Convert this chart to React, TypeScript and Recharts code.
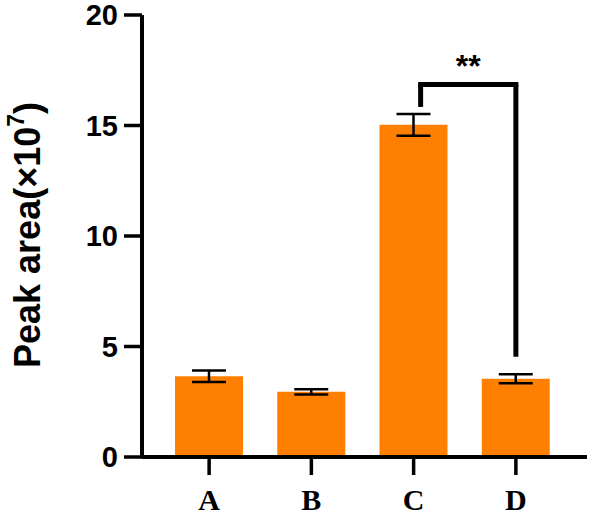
import { BarChart, Bar, XAxis, YAxis, ErrorBar, ReferenceLine } from "recharts";

const groups = ["A", "B", "C", "D"];
const peakArea = [3.65, 2.95, 15.03, 3.54];
const peakErr = [0.26, 0.12, 0.49, 0.2];
const yTicks = [0, 5, 10, 15, 20];

// significance bracket between C and D
const bracketTop = 16.86;
const bracketLeftBottom = 15.84;
const bracketRightBottom = 4.54;
const sigLabel = "**";

const data = groups.map((g, i) => ({ name: g, value: peakArea[i], err: peakErr[i] }));

const SANS = "'Liberation Sans', Arial, Helvetica, sans-serif";
const SERIF = "'Liberation Serif', 'Times New Roman', serif";
const BRACKET_SHIFT = 7;

function YLabel() {
  const x = 40;
  const y = 235;
  return (
    <text
      x={x}
      y={y}
      transform={`rotate(-90, ${x}, ${y})`}
      textAnchor="middle"
      fontFamily={SANS}
      fontWeight="bold"
      fontSize={36}
      fill="#000"
    >
      Peak area(×10
      <tspan fontSize={23} dy={-16}>7</tspan>
      <tspan dy={16}>)</tspan>
    </text>
  );
}

export default function App() {
  return (
    <div style={{ position: "absolute", left: 0, top: 0, background: "#fff" }}>
      <BarChart
        width={590}
        height={516}
        data={data}
        margin={{ top: 15, right: 3, left: 0, bottom: 0 }}
      >
        <XAxis
          dataKey="name"
          height={59}
          padding={{ left: 16, right: 20 }}
          tickSize={18}
          tickMargin={14}
          axisLine={{ stroke: "#000", strokeWidth: 4 }}
          tickLine={{ stroke: "#000", strokeWidth: 3.5 }}
          tick={{ fill: "#000", fontSize: 30, fontWeight: "bold", fontFamily: SERIF }}
        />
        <YAxis
          width={142}
          domain={[0, 20]}
          ticks={yTicks}
          interval={0}
          tickSize={18}
          tickMargin={6}
          axisLine={{ stroke: "#000", strokeWidth: 4 }}
          tickLine={{ stroke: "#000", strokeWidth: 3.5 }}
          tick={{ fill: "#000", fontSize: 29, fontWeight: "bold", fontFamily: SANS }}
          label={<YLabel />}
        />
        <Bar dataKey="value" fill="#FF8000" barSize={68} isAnimationActive={false}>
          <ErrorBar
            dataKey="err"
            width={17}
            stroke="#000"
            strokeWidth={2.5}
            isAnimationActive={false}
          />
        </Bar>
        <ReferenceLine
          segment={[
            { x: "C", y: bracketLeftBottom },
            { x: "C", y: bracketTop },
          ]}
          stroke="#000"
          strokeWidth={5}
          shape={(p: any) => (
            <line
              x1={p.x1 + BRACKET_SHIFT}
              y1={p.y1}
              x2={p.x2 + BRACKET_SHIFT}
              y2={p.y2}
              stroke="#000"
              strokeWidth={5}
            />
          )}
        />
        <ReferenceLine
          segment={[
            { x: "C", y: bracketTop },
            { x: "D", y: bracketTop },
          ]}
          stroke="#000"
          strokeWidth={5}
          shape={(p: any) => (
            <g>
              <line
                x1={p.x1 + BRACKET_SHIFT}
                y1={p.y1}
                x2={p.x2}
                y2={p.y2}
                stroke="#000"
                strokeWidth={5}
                strokeLinecap="square"
              />
              <text
                x={(p.x1 + BRACKET_SHIFT + p.x2) / 2}
                y={p.y1 - 7}
                textAnchor="middle"
                fontFamily={SANS}
                fontWeight="bold"
                fontSize={32}
                fill="#000"
              >
                {sigLabel}
              </text>
            </g>
          )}
        />
        <ReferenceLine
          segment={[
            { x: "D", y: bracketRightBottom },
            { x: "D", y: bracketTop },
          ]}
          stroke="#000"
          strokeWidth={5}
          shape={(p: any) => (
            <line x1={p.x1} y1={p.y1} x2={p.x2} y2={p.y2} stroke="#000" strokeWidth={5} />
          )}
        />
      </BarChart>
    </div>
  );
}
